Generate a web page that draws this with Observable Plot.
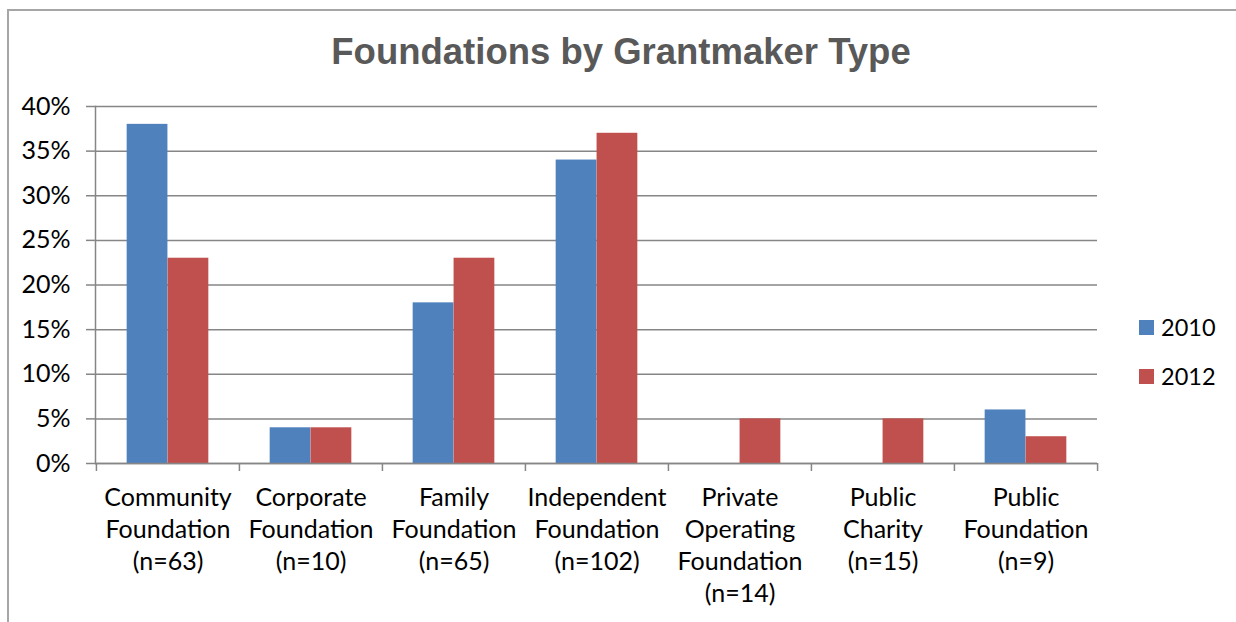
<!DOCTYPE html>
<html><head><meta charset="utf-8">
<script src="https://cdn.jsdelivr.net/npm/d3@7"></script>
<script src="https://cdn.jsdelivr.net/npm/@observablehq/plot@0.6"></script>
<style>
html,body{margin:0;padding:0;background:#fff}
body{width:1236px;height:622px;overflow:hidden;position:relative;font-family:Lato,"Open Sans",sans-serif}
#border{position:absolute;left:7px;top:9px;width:1300px;height:700px;border:2px solid #a6a6a6;box-sizing:border-box}
#title{position:absolute;left:0;width:1242px;top:34px;text-align:center;font:bold 36.5px/36px "Liberation Sans",Arial,sans-serif;color:#595959;white-space:nowrap}
#chart{position:absolute;left:0;top:0}
#legend{position:absolute;left:1139px;top:312px;font-size:23.5px;color:#000;line-height:30px}
.item{display:flex;align-items:center;height:30px;margin-bottom:19px}
.sw{width:15px;height:15px;margin-right:7px}
</style></head>
<body>
<div id="border"></div>
<div id="chart"></div>
<div id="title">Foundations by Grantmaker Type</div>
<div id="legend"></div>
<script>
const categories = ["Community Foundation","Corporate Foundation","Family Foundation","Independent Foundation","Private Operating Foundation","Public Charity","Public Foundation"];
const tickLabels = ["Community\nFoundation\n(n=63)","Corporate\nFoundation\n(n=10)","Family\nFoundation\n(n=65)","Independent\nFoundation\n(n=102)","Private\nOperating\nFoundation\n(n=14)","Public\nCharity\n(n=15)","Public\nFoundation\n(n=9)"];
const years = ["2010","2012"];
const values2010 = [0.38,0.04,0.18,0.34,0,0,0.06];
const values2012 = [0.23,0.04,0.23,0.37,0.05,0.05,0.03];
const yTicks = [0,0.05,0.10,0.15,0.20,0.25,0.30,0.35,0.40];
const colors = ["#4F81BD","#C0504D"];

const W = 1236, H = 622, ML = 95, MR = 139, MT = 106, MB = 159;
const bw = (W - ML - MR) / categories.length;
const barW = bw / 3.5;
const gapO = barW * 0.75;
const rows = categories.map((c,i)=>({category:c, v2010:values2010[i], v2012:values2012[i]}));
const axisColor = "#868686";

const chart = Plot.plot({
  width: W, height: H,
  marginTop: MT, marginBottom: MB, marginLeft: ML, marginRight: MR,
  style: {fontFamily: "Lato, 'Open Sans', sans-serif", fontSize: "25px", color: "#000", background: "transparent", overflow: "visible"},
  x: {domain: categories, padding: 0, axis: null, label: null},
  y: {domain: [0, 0.4], axis: null, label: null},
  marks: [
    Plot.gridY(yTicks, {stroke: axisColor, strokeOpacity: 1, strokeWidth: 1.5}),
    Plot.barY(rows, {x: "category", y: "v2010", fill: colors[0], insetLeft: gapO, insetRight: gapO + barW}),
    Plot.barY(rows, {x: "category", y: "v2012", fill: colors[1], insetLeft: gapO + barW, insetRight: gapO}),
    Plot.axisY(yTicks, {tickSize: 9, tickPadding: 16, tickFormat: d3.format(".0%"), stroke: axisColor, strokeWidth: 1.5, fill: "#000", label: null}),
    Plot.frame({anchor: "left", stroke: axisColor, strokeWidth: 1.5}),
    Plot.ruleY([0], {stroke: axisColor, strokeWidth: 1.5}),
    Plot.axisX(categories, {tickSize: 8, tickFormat: () => "", dx: -bw/2, stroke: axisColor, strokeWidth: 1.5, label: null}),
    Plot.axisX([categories[categories.length-1]], {tickSize: 8, tickFormat: () => "", dx: bw/2, stroke: axisColor, strokeWidth: 1.5, label: null}),
    Plot.text(categories, {x: d => d, text: (d,i) => tickLabels[i], frameAnchor: "bottom", lineAnchor: "top", dy: 19.5, lineHeight: 1.28, fill: "#000"})
  ]
});
document.getElementById("chart").appendChild(chart);

const leg = document.getElementById("legend");
years.forEach((y,i)=>{
  const it = document.createElement("div"); it.className = "item";
  const sw = document.createElement("div"); sw.className = "sw"; sw.style.background = colors[i];
  const t = document.createElement("span"); t.textContent = y;
  it.appendChild(sw); it.appendChild(t); leg.appendChild(it);
});
</script>
</body></html>
